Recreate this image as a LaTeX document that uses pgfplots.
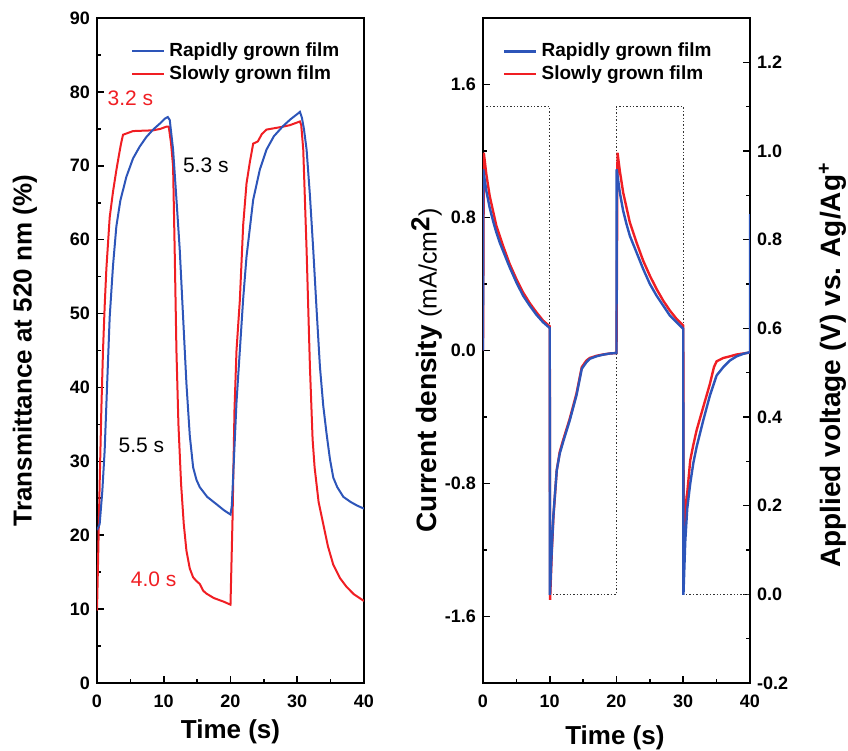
\documentclass[border=0pt]{standalone}
\usepackage{pgfplots}
\pgfplotsset{compat=1.18}
\usepackage{fontspec}
\setmainfont{Liberation Sans}
\definecolor{rapid}{RGB}{45,85,185}
\definecolor{slow}{RGB}{240,30,35}

\pgfplotsset{
  panel/.style={
    width=133.5pt, height=332.5pt, scale only axis,
    xmin=0, xmax=40, xtick={0,10,...,40}, minor x tick num=1,
    /pgf/number format/assume math mode=true,
    ticklabel style={font=\bfseries\fontsize{9}{10}\selectfont},
    xticklabel style={yshift=-2.5pt},
    axis line style={line width=1pt},
    major tick length=3.5pt, minor tick length=2pt,
    every tick/.style={black, line width=0.8pt},
    xtick pos=left,
    label style={font=\bfseries\fontsize{13}{15}\selectfont},
    legend style={draw=none, fill=none, font=\bfseries\fontsize{9.5}{11}\selectfont, row sep=-1pt},
    legend cell align=left,
    legend image code/.code={\draw[##1] (0pt,0pt) -- (16pt,0pt);},
  },
}

\begin{document}
\begin{tikzpicture}
\path[use as bounding box] (-48.5pt,-34pt) rectangle (375.5pt,341.5pt);

% ---- left panel: transmittance
\begin{axis}[panel,
  ymin=0, ymax=90, ytick={0,10,...,90}, minor y tick num=1, ytick pos=left,
  xlabel={Time (s)}, ylabel={Transmittance at 520 nm (\%)},
  xlabel style={at={(axis description cs:0.5,-0.074)}, anchor=center},
  ylabel style={at={(axis description cs:-0.27,0.5)}, anchor=center},
  legend style={at={(axis description cs:0.105,0.975)}, anchor=north west}]
\addlegendimage{rapid, line width=1pt}
\addlegendentry{Rapidly grown film}
\addlegendimage{slow, line width=1pt}
\addlegendentry{Slowly grown film}
% slowly grown film
\addplot[slow, line width=1pt, forget plot] coordinates {
 (0,9.8) (0.15,16) (0.4,27) (0.65,37) (0.9,45) (1.15,51) (1.4,56) (1.9,63) (2.4,66.5)
 (2.9,69.4) (3.3,71.5) (3.6,73) (3.9,74.2) (4.5,74.4) (5.4,74.7) (8.4,74.8) (9.5,75)
 (10.4,75.3) (10.75,75.3) (11.1,73) (11.4,69.9) (11.65,58) (11.9,45) (12.2,35)
 (12.6,26.9) (13,21.5) (13.4,17.9) (13.9,15.5) (14.4,14.3) (14.9,13.8) (15.4,13.4)
 (15.9,12.5) (16.4,12.1) (17.5,11.5) (19,11) (20,10.6)
 (20.3,22) (20.6,37) (20.9,45) (21.4,51.8) (21.9,62) (22.4,67.6) (22.9,70.5)
 (23.4,73) (24.1,73.3) (24.7,74.3) (25.4,74.9) (27.9,75.3) (28.9,75.5) (30.4,76)
 (30.6,75.5) (30.9,72.2) (31.4,58.6) (31.9,42.8) (32.3,33) (32.6,29.2) (33.2,24.5)
 (33.9,21.5) (34.6,18.5) (35.4,16) (36.4,14.2) (37.4,13) (38.5,12) (40,11.1)
};
% rapidly grown film
\addplot[rapid, line width=1pt, forget plot] coordinates {
 (0,20.7) (0.4,21.5) (0.8,26) (1.15,31.5) (1.5,40) (1.9,49.5) (2.4,56.5) (2.9,61.8)
 (3.5,65.3) (4.4,68.5) (5.4,71) (6.4,72.6) (7.4,73.9) (8.4,74.9) (9.4,75.7)
 (10.2,76.4) (10.6,76.6) (10.9,76.2) (11.4,72.2) (11.9,65.5) (12.4,58.6) (12.9,49.5)
 (13.4,40.5) (13.9,33.5) (14.4,29.2) (14.9,27.5) (15.4,26.5) (16.5,25.2) (17.9,24.2)
 (19,23.4) (20,22.8)
 (20.2,24) (20.5,30) (20.9,38) (21.4,45) (21.9,52) (22.4,57.7) (23.4,65.4)
 (24.4,69.5) (25.4,72.2) (26.5,74) (27.9,75.4) (29,76.3) (30,77) (30.4,77.3)
 (30.7,76.5) (31.0,75) (31.4,72.2) (31.9,66) (32.4,58.6) (32.9,50.5) (33.4,42.8)
 (33.9,37.5) (34.4,33.7) (34.9,30.3) (35.4,27.8) (36,26.5) (36.9,25.2) (38,24.5)
 (39,24) (40,23.6)
};
\node[slow, font=\fontsize{10.5}{12}\selectfont] at (axis cs:5.0,79.2) {3.2 s};
\node[font=\fontsize{10.5}{12}\selectfont] at (axis cs:16.3,70.1) {5.3 s};
\node[font=\fontsize{10.5}{12}\selectfont] at (axis cs:6.65,32.1) {5.5 s};
\node[slow, font=\fontsize{10.5}{12}\selectfont] at (axis cs:8.5,14) {4.0 s};
\end{axis}

% ---- right panel: applied voltage (right axis)
\begin{axis}[panel, at={(193pt,0pt)},
  ymin=-0.2, ymax=1.3, ytick={-0.2,0,0.2,0.4,0.6,0.8,1.0,1.2}, minor y tick num=1,
  axis y line*=right, hide x axis,
  yticklabel style={/pgf/number format/.cd, fixed, fixed zerofill, precision=1},
  ylabel={Applied voltage (V) vs. Ag/Ag\textsuperscript{+}},
  ylabel style={at={(axis description cs:1.31,0.478)}, anchor=center, font=\bfseries\fontsize{14}{16}\selectfont}]
\addplot[black!80, densely dotted, line width=0.7pt] coordinates {
 (0,1.1) (10,1.1) (10,0) (20,0) (20,1.1) (30,1.1) (30,0) (40,0)
};
\end{axis}

% ---- right panel: current density
\begin{axis}[panel, at={(193pt,0pt)},
  ymin=-2, ymax=2, ytick={-1.6,-0.8,0,0.8,1.6}, minor y tick num=1, ytick pos=left,
  yticklabel style={/pgf/number format/.cd, fixed, fixed zerofill, precision=1},
  xlabel={Time (s)},
  ylabel={Current density {\mdseries\fontsize{12.5}{14}\selectfont(mA/cm\raisebox{0.55ex}{\bfseries\fontsize{13}{14}\selectfont 2})}},
  xlabel style={at={(axis description cs:0.494,-0.083)}, anchor=center},
  ylabel style={at={(axis description cs:-0.21,0.47)}, anchor=center, font=\bfseries\fontsize{14}{16}\selectfont},
  legend style={at={(axis description cs:0.052,0.975)}, anchor=north west}]
\addlegendimage{rapid, line width=1.2pt}
\addlegendentry{Rapidly grown film}
\addlegendimage{slow, line width=1.2pt}
\addlegendentry{Slowly grown film}
% slowly grown film
\addplot[slow, line width=1.2pt, forget plot] coordinates {
 (0,0) (0.05,0.5) (0.12,1.19) (0.5,1.06) (1,0.93) (2,0.75) (3,0.63) (4,0.52) (5,0.43)
 (6,0.35) (7,0.285) (8,0.23) (9,0.18) (10,0.145)
 (10.05,-1.5) (10.3,-1.22) (10.55,-1.0) (11.05,-0.72) (11.5,-0.61) (12,-0.54)
 (13,-0.41) (14,-0.26) (14.8,-0.1) (15.5,-0.06) (16,-0.045) (17,-0.032) (18,-0.024)
 (19,-0.018) (20,-0.015)
 (20.05,0.4) (20.15,1.19) (20.5,1.08) (21,0.95) (22,0.77) (23,0.65) (24,0.54) (25,0.45)
 (26,0.37) (27,0.30) (28,0.24) (29,0.19) (30,0.15)
 (30.05,-0.8) (30.2,-1.1) (30.5,-0.9) (31.05,-0.66) (31.5,-0.57) (32,-0.48) (33,-0.34)
 (34,-0.2) (34.6,-0.1) (35,-0.065) (36,-0.045) (37,-0.035) (38,-0.024) (40,-0.012)
};
% rapidly grown film
\addplot[rapid, line width=1.2pt, forget plot] coordinates {
 (0,0) (0.03,1.09) (0.5,0.96) (1,0.86) (1.5,0.78) (2,0.71) (2.5,0.65) (3,0.60) (4,0.50)
 (5,0.41) (6,0.33) (7,0.27) (8,0.215) (9,0.17) (10,0.135)
 (10.03,-1.47) (10.3,-1.2) (10.55,-0.99) (11.05,-0.72) (11.5,-0.62) (12,-0.55)
 (13,-0.42) (14,-0.27) (14.8,-0.11) (15.5,-0.07) (16,-0.05) (17,-0.035) (18,-0.025)
 (19,-0.018) (20,-0.015)
 (20.03,1.09) (20.5,0.95) (21,0.84) (21.5,0.76) (22,0.69) (23,0.59) (24,0.49) (25,0.40)
 (26,0.33) (27,0.27) (28,0.21) (29,0.17) (30,0.13)
 (30.03,-1.47) (30.3,-1.15) (30.6,-0.95) (31.05,-0.80) (31.5,-0.68) (32,-0.58)
 (33,-0.42) (34,-0.27) (35,-0.15) (36,-0.10) (37,-0.06) (38,-0.035) (39,-0.02)
 (40,-0.01) (40,0.82)
};
\end{axis}
\end{tikzpicture}
\end{document}
